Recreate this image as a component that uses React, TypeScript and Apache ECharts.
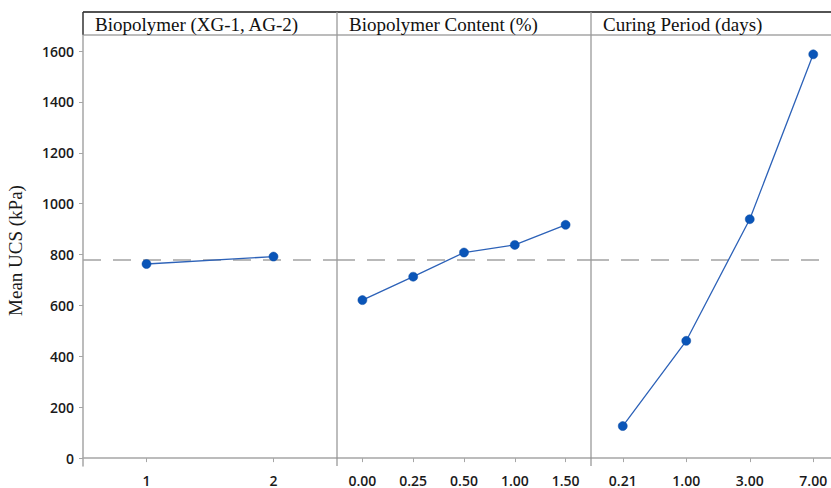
import React, { useEffect, useRef } from "react";
import * as echarts from "echarts";

// Factor levels (x categories per panel)
const polymerLevels = ["1", "2"];
const contentLevels = ["0.00", "0.25", "0.50", "1.00", "1.50"];
const curingLevels = ["0.21", "1.00", "3.00", "7.00"];

// Mean UCS (kPa) at each level
const polymerMeans = [763, 792];
const contentMeans = [621, 713, 808, 838, 917];
const curingMeans = [126, 461, 939, 1587];

// Overall mean reference line
const grandMean = 778;

const yTicks = [0, 200, 400, 600, 800, 1000, 1200, 1400, 1600];
const panelTitles = [
  "Biopolymer (XG-1, AG-2)",
  "Biopolymer Content (%)",
  "Curing Period (days)",
];

const PLOT_LEFT = 83;
const PANEL_W = 254;
const HEADER_TOP = 12;
const PLOT_TOP = 35;
const PLOT_BOTTOM = 22;
const H = 488;
// the third panel runs past the visible frame, so the canvas is wider than the view
const CANVAS_W = PLOT_LEFT + 3 * PANEL_W + 2;
const VIEW_W = 831;

const axisGray = "#a6a6a6";
const tickFont = {
  fontFamily: "'Open Sans', sans-serif",
  fontWeight: 600 as const,
  fontSize: 14,
  color: "#1a1a1a",
};

export default function App() {
  const ref = useRef<HTMLDivElement>(null);

  useEffect(() => {
    if (!ref.current) return;
    const chart = echarts.init(ref.current, null, { renderer: "svg" });

    const panels = [
      { cats: polymerLevels, vals: polymerMeans },
      { cats: contentLevels, vals: contentMeans },
      { cats: curingLevels, vals: curingMeans },
    ];

    const grids = panels.map((_, i) => ({
      left: PLOT_LEFT + i * PANEL_W,
      width: PANEL_W,
      top: PLOT_TOP,
      bottom: PLOT_BOTTOM,
      containLabel: false,
    }));

    const xAxes = panels.map((p, i) => ({
      type: "category" as const,
      gridIndex: i,
      data: p.cats,
      boundaryGap: true,
      axisLine: { show: true, lineStyle: { color: axisGray, width: 1.5 } },
      axisTick: {
        show: true,
        alignWithLabel: true,
        length: 4,
        lineStyle: { color: axisGray, width: 1 },
      },
      axisLabel: { ...tickFont, margin: 7, interval: 0 },
      splitLine: { show: false },
    }));

    const yAxes = panels.map((_, i) => ({
      type: "value" as const,
      gridIndex: i,
      min: -31,
      max: 1663,
      show: i === 0,
      name: i === 0 ? "Mean UCS (kPa)" : "",
      nameLocation: "middle" as const,
      nameGap: 58,
      nameTextStyle: {
        fontFamily: "'Liberation Serif', 'Times New Roman', serif",
        fontSize: 19,
        color: "#1a1a1a",
      },
      axisLine: { show: true, lineStyle: { color: axisGray, width: 1.5 } },
      axisTick: {
        show: true,
        length: 4,
        customValues: yTicks,
        lineStyle: { color: axisGray, width: 1 },
      },
      axisLabel: {
        ...tickFont,
        margin: 9,
        customValues: yTicks,
        formatter: (v: number) => String(v),
      },
      splitLine: { show: false },
    }));

    const series = panels.map((p, i) => ({
      type: "line" as const,
      xAxisIndex: i,
      yAxisIndex: i,
      data: p.vals,
      symbol: "circle",
      symbolSize: 9,
      itemStyle: { color: "#0a55b8", borderColor: "#0a4aa3", borderWidth: 0.5 },
      lineStyle: { color: "#2d62b8", width: 1.3 },
      z: 5,
      markLine: {
        silent: true,
        symbol: "none",
        label: { show: false },
        lineStyle: { color: "#a3a3a3", type: [18, 12], width: 1.6 },
        data: [{ yAxis: grandMean }],
        z: 1,
      },
    }));

    const axisBottomY = H - PLOT_BOTTOM;
    const graphics: any[] = [];
    // Header frame
    graphics.push({
      type: "line",
      shape: { x1: PLOT_LEFT, y1: HEADER_TOP, x2: CANVAS_W, y2: HEADER_TOP },
      style: { stroke: "#1a1a1a", lineWidth: 1.5 },
    });
    graphics.push({
      type: "line",
      shape: { x1: PLOT_LEFT, y1: PLOT_TOP, x2: CANVAS_W, y2: PLOT_TOP },
      style: { stroke: axisGray, lineWidth: 1.5 },
    });
    graphics.push({
      type: "line",
      shape: { x1: PLOT_LEFT, y1: HEADER_TOP, x2: PLOT_LEFT, y2: PLOT_TOP },
      style: { stroke: "#333", lineWidth: 1.5 },
    });
    // Panel dividers
    [1, 2].forEach((k) => {
      const x = PLOT_LEFT + k * PANEL_W;
      graphics.push({
        type: "line",
        shape: { x1: x, y1: HEADER_TOP, x2: x, y2: axisBottomY },
        style: { stroke: "#9a9a9a", lineWidth: 1.3 },
        z: 10,
      });
    });
    // Panel titles
    panelTitles.forEach((t, k) => {
      graphics.push({
        type: "text",
        x: PLOT_LEFT + k * PANEL_W + 12,
        y: (HEADER_TOP + PLOT_TOP) / 2 + 1,
        style: {
          text: t,
          fontFamily: "'Liberation Serif', 'Times New Roman', serif",
          fontSize: 19,
          fill: "#111",
          verticalAlign: "middle",
        },
      });
    });

    chart.setOption({
      animation: false,
      backgroundColor: "#ffffff",
      grid: grids,
      xAxis: xAxes,
      yAxis: yAxes,
      series,
      graphic: graphics,
    });

    return () => chart.dispose();
  }, []);

  return (
    <div
      style={{
        position: "fixed",
        left: 0,
        top: 0,
        width: VIEW_W,
        height: H,
        overflow: "hidden",
        background: "#fff",
      }}
    >
      <div ref={ref} style={{ width: CANVAS_W, height: H }} />
    </div>
  );
}
